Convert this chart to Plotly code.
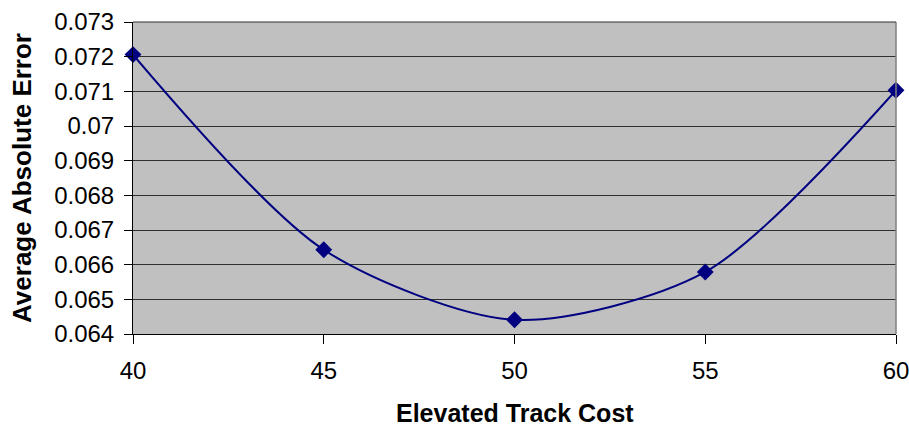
import plotly.graph_objects as go

# Elevated track cost vs. average absolute error
track_cost = [40, 45, 50, 55, 60]
avg_abs_error = [0.07206, 0.06643, 0.06441, 0.06579, 0.07103]

y_ticks = [0.064, 0.065, 0.066, 0.067, 0.068, 0.069, 0.07, 0.071, 0.072, 0.073]
y_tick_text = ["0.064", "0.065", "0.066", "0.067", "0.068", "0.069", "0.07", "0.071", "0.072", "0.073"]
x_ticks = [40, 45, 50, 55, 60]

navy = "#000080"
font_family = "Liberation Sans, Arial, sans-serif"

fig = go.Figure()
fig.add_trace(go.Scatter(
    x=track_cost, y=avg_abs_error,
    mode="lines+markers",
    line=dict(color=navy, width=2, shape="spline", smoothing=0.8),
    marker=dict(symbol="diamond", size=13, color=navy),
    cliponaxis=False,
    showlegend=False,
))

fig.update_layout(
    width=909, height=429,
    margin=dict(l=133, r=13, t=22, b=95, autoexpand=False),
    paper_bgcolor="white",
    plot_bgcolor="#C0C0C0",
    font=dict(family=font_family, size=24, color="black"),
    xaxis=dict(
        range=[40, 60], tickvals=x_ticks,
        automargin=False,
        showgrid=False, zeroline=False,
        showline=True, linecolor="black", linewidth=1,
        ticks="outside", ticklen=9, tickcolor="black",
        ticklabelstandoff=6, ticklabeloverflow="allow",
        tickfont=dict(size=24),
    ),
    yaxis=dict(
        range=[0.064, 0.073], tickvals=y_ticks, ticktext=y_tick_text,
        automargin=False,
        showgrid=True, gridcolor="#303030", gridwidth=1,
        zeroline=False,
        showline=True, linecolor="black", linewidth=1,
        ticks="outside", ticklen=8, tickcolor="black",
        ticklabelstandoff=5, ticklabeloverflow="allow",
        tickfont=dict(size=24),
        title=dict(text="<b>Average Absolute Error</b>", font=dict(size=26)),
    ),
    annotations=[
        dict(text="<b>Elevated Track Cost</b>", xref="paper", yref="paper",
             x=0.5, y=0, xanchor="center", yanchor="middle", yshift=-79,
             showarrow=False, font=dict(size=25)),
    ],
    shapes=[
        dict(type="line", xref="paper", yref="paper", x0=1, x1=1, y0=0, y1=1,
             line=dict(color="#808080", width=1.5)),
        dict(type="line", xref="paper", yref="paper", x0=0, x1=1, y0=1, y1=1,
             line=dict(color="#303030", width=1)),
    ],
)

fig.write_html("out.html")
